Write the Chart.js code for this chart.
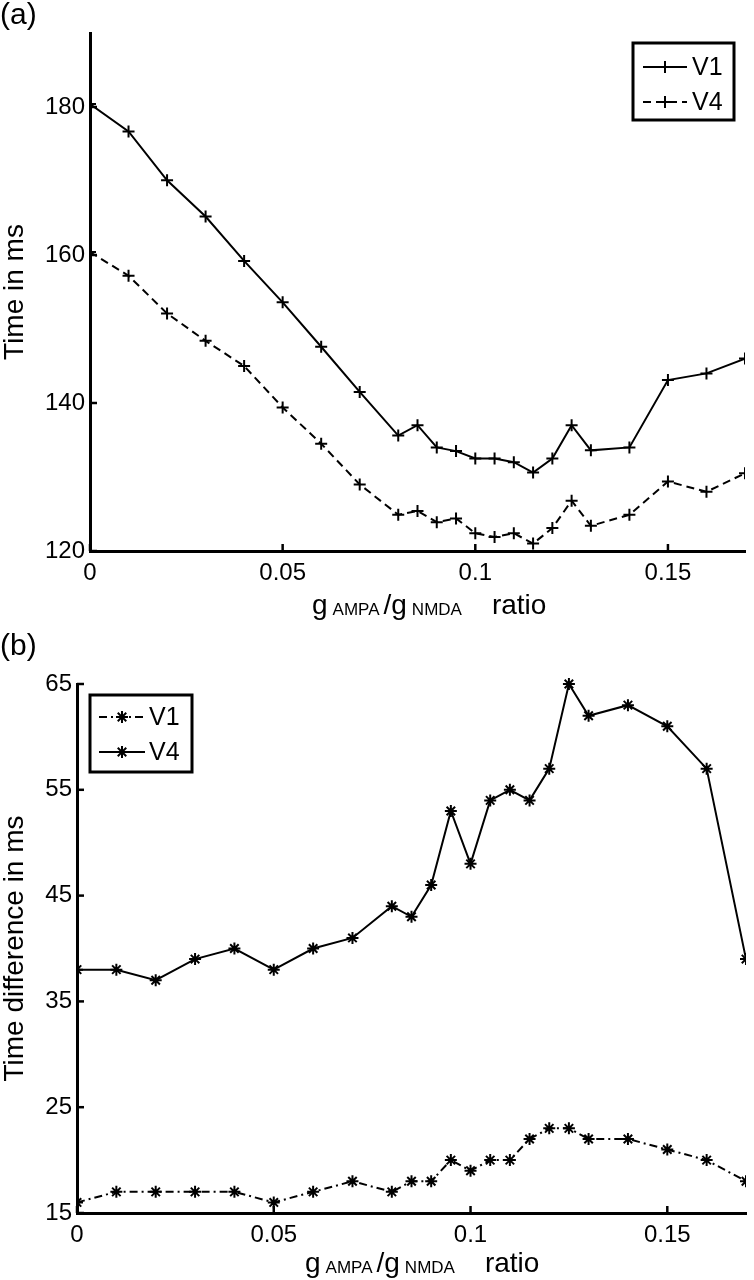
<!DOCTYPE html>
<html>
<head>
<meta charset="utf-8">
<script src="https://cdn.jsdelivr.net/npm/chart.js@4/dist/chart.umd.min.js"></script>
<style>
  html, body { margin: 0; padding: 0; background: #fff; }
  #wrap { position: relative; width: 754px; height: 1280px; background: #fff; overflow: hidden;
          font-family: "Liberation Sans", Arial, Helvetica, sans-serif; color: #000; }
  .cv { position: absolute; left: 0; }
  .panel { position: absolute; left: 0; font-size: 30px; line-height: 30px; }
  .xt { position: absolute; font-size: 28px; line-height: 28px; white-space: nowrap; }
  .xt .s { font-size: 17px; position: relative; top: 1px; margin-left: 5px; margin-right: 4px; }
  .xt .r { margin-left: 26px; }
</style>
</head>
<body>
<div id="wrap">
  <canvas id="c1" class="cv" width="754" height="640" style="top:0px"></canvas>
  <canvas id="c2" class="cv" width="754" height="640" style="top:640px"></canvas>
  <div class="panel" style="top:-1px">(a)</div>
  <div class="panel" style="top:630px">(b)</div>
  <div class="xt" style="left:312px; top:591px">g<span class="s">AMPA</span>/g<span class="s">NMDA</span><span class="r">ratio</span></div>
  <div class="xt" style="left:305px; top:1249px">g<span class="s">AMPA</span>/g<span class="s">NMDA</span><span class="r">ratio</span></div>
</div>
<script>
// ---------- data ----------
const ratios = [0, 0.01, 0.02, 0.03, 0.04, 0.05, 0.06, 0.07, 0.08, 0.085, 0.09, 0.095,
                0.1, 0.105, 0.11, 0.115, 0.12, 0.125, 0.13, 0.14, 0.15, 0.16, 0.17];
const timeV1 = [180.4, 176.7, 170.1, 165.2, 159.2, 153.6, 147.6, 141.5, 135.6, 137.0, 134.0, 133.5,
                132.5, 132.5, 132.0, 130.6, 132.5, 137.0, 133.6, 134.0, 143.1, 144.0, 146.0];
const timeV4 = [160.4, 157.2, 152.1, 148.4, 145.0, 139.4, 134.5, 129.0, 124.9, 125.4, 123.9, 124.4,
                122.4, 121.9, 122.4, 121.0, 123.1, 126.8, 123.4, 124.9, 129.4, 128.0, 130.5];
const diffV1 = [16, 17, 17, 17, 17, 16, 17, 18, 17, 18, 18, 20, 19, 20, 20, 22, 23, 23, 22, 22, 21, 20, 18];
const diffV4 = [38, 38, 37, 39, 40, 38, 40, 41, 44, 43, 46, 53, 48, 54, 55, 54, 57, 65, 62, 63, 61, 57, 39];
const xTickValues = [0, 0.05, 0.1, 0.15];
const yTicksTop = [120, 140, 160, 180];
const yTicksBottom = [15, 25, 35, 45, 55, 65];
const seriesNames = ['V1', 'V4'];
const yTitleTop = 'Time in ms';
const yTitleBottom = 'Time difference in ms';

// ---------- helpers ----------
const FONT = '"Liberation Sans", Arial, Helvetica, sans-serif';
Chart.defaults.font.family = FONT;
Chart.defaults.color = '#000';

function pts(xs, ys) { return xs.map((x, i) => ({ x: x, y: ys[i] })); }

function drawMarker(ctx, style, x, y, r) {
  ctx.beginPath();
  ctx.moveTo(x - r, y); ctx.lineTo(x + r, y);
  ctx.moveTo(x, y - r); ctx.lineTo(x, y + r);
  if (style === 'star') {
    const d = r * Math.SQRT1_2;
    ctx.moveTo(x - d, y - d); ctx.lineTo(x + d, y + d);
    ctx.moveTo(x - d, y + d); ctx.lineTo(x + d, y - d);
  }
  ctx.stroke();
}

// inward tick marks
const innerTicks = {
  id: 'innerTicks',
  afterDatasetsDraw(chart, args, opts) {
    const ctx = chart.ctx, xs = chart.scales.x, ys = chart.scales.y, a = chart.chartArea;
    ctx.save();
    ctx.strokeStyle = '#000'; ctx.lineWidth = 2.5; ctx.setLineDash([]);
    xs.ticks.forEach(t => {
      const px = xs.getPixelForValue(t.value);
      ctx.beginPath(); ctx.moveTo(px, a.bottom); ctx.lineTo(px, a.bottom - 7); ctx.stroke();
    });
    ys.ticks.forEach(t => {
      const py = ys.getPixelForValue(t.value);
      ctx.beginPath(); ctx.moveTo(a.left, py); ctx.lineTo(a.left + 7, py); ctx.stroke();
    });
    ctx.restore();
  }
};

// boxed legend inside the plot
const boxLegend = {
  id: 'boxLegend',
  afterDraw(chart, args, o) {
    const ctx = chart.ctx;
    ctx.save();
    ctx.strokeStyle = '#000'; ctx.lineWidth = 3; ctx.setLineDash([]);
    ctx.fillStyle = '#fff';
    ctx.fillRect(o.x, o.y, o.w, o.h);
    ctx.strokeRect(o.x, o.y, o.w, o.h);
    chart.data.datasets.forEach((ds, i) => {
      const yc = o.rows[i];
      ctx.strokeStyle = '#000';
      ctx.lineWidth = ds.borderWidth;
      ctx.setLineDash(ds.borderDash || []);
      ctx.beginPath(); ctx.moveTo(o.lx1, yc); ctx.lineTo(o.lx2, yc); ctx.stroke();
      ctx.setLineDash([]);
      ctx.lineWidth = ds.pointBorderWidth;
      drawMarker(ctx, ds.pointStyle, (o.lx1 + o.lx2) / 2, yc, ds.pointRadius);
      ctx.fillStyle = '#000';
      ctx.font = '25px ' + FONT;
      ctx.textAlign = 'left'; ctx.textBaseline = 'middle';
      ctx.fillText(ds.label, o.tx, yc + 1);
    });
    ctx.restore();
  }
};

function makeScales(yMin, yMax, yTicks, yTitle, xHeight, yWidth) {
  return {
    x: {
      type: 'linear', min: 0, max: 0.17,
      afterBuildTicks: s => { s.ticks = xTickValues.map(v => ({ value: v })); },
      afterFit: s => { s.height = xHeight; },
      grid: { display: false, drawTicks: false },
      border: { display: true, color: '#000', width: 3 },
      ticks: { padding: 8, font: { size: 24 }, color: '#000', maxRotation: 0,
               callback: v => String(v) }
    },
    y: {
      type: 'linear', min: yMin, max: yMax,
      afterBuildTicks: s => { s.ticks = yTicks.map(v => ({ value: v })); },
      afterFit: s => { s.width = yWidth; },
      grid: { display: false, drawTicks: false },
      border: { display: true, color: '#000', width: 3 },
      ticks: { padding: 5, font: { size: 24 }, color: '#000', callback: v => String(v) },
      title: { display: true, text: yTitle, color: '#000', font: { size: 28, lineHeight: 1.1 },
               padding: { top: 0, bottom: 0 } }
    }
  };
}

// ---------- chart (a) ----------
new Chart(document.getElementById('c1'), {
  type: 'line',
  data: {
    datasets: [
      { label: seriesNames[0], data: pts(ratios, timeV1), borderColor: '#000', borderWidth: 2,
        pointStyle: 'cross', pointRadius: 6, pointBorderWidth: 2, pointBorderColor: '#000',
        fill: false, tension: 0, clip: { left: 0, right: 0, top: false, bottom: false } },
      { label: seriesNames[1], data: pts(ratios, timeV4), borderColor: '#000', borderWidth: 2,
        borderDash: [8, 5],
        pointStyle: 'cross', pointRadius: 6, pointBorderWidth: 2, pointBorderColor: '#000',
        fill: false, tension: 0, clip: { left: 0, right: 0, top: false, bottom: false } }
    ]
  },
  options: {
    responsive: false, animation: false, devicePixelRatio: 1,
    layout: { padding: { top: 33, right: 9, left: 0, bottom: 0 } },
    plugins: {
      legend: { display: false }, tooltip: { enabled: false },
      boxLegend: { x: 633, y: 43, w: 101, h: 77, rows: [67, 102], lx1: 643, lx2: 687, tx: 692 }
    },
    scales: makeScales(120, 190, yTicksTop, yTitleTop, 89, 90)
  },
  plugins: [innerTicks, boxLegend]
});

// ---------- chart (b) ----------
new Chart(document.getElementById('c2'), {
  type: 'line',
  data: {
    datasets: [
      { label: seriesNames[0], data: pts(ratios, diffV1), borderColor: '#000', borderWidth: 2,
        borderDash: [8, 4, 2, 4],
        pointStyle: 'star', pointRadius: 6, pointBorderWidth: 2, pointBorderColor: '#000',
        fill: false, tension: 0, clip: { left: 0, right: 0, top: false, bottom: false } },
      { label: seriesNames[1], data: pts(ratios, diffV4), borderColor: '#000', borderWidth: 2,
        pointStyle: 'star', pointRadius: 6, pointBorderWidth: 2, pointBorderColor: '#000',
        fill: false, tension: 0, clip: { left: 0, right: 0, top: false, bottom: false } }
    ]
  },
  options: {
    responsive: false, animation: false, devicePixelRatio: 1,
    layout: { padding: { top: 44, right: 7, left: 0, bottom: 0 } },
    plugins: {
      legend: { display: false }, tooltip: { enabled: false },
      boxLegend: { x: 90, y: 55, w: 102, h: 77, rows: [77, 112], lx1: 99, lx2: 145, tx: 149 }
    },
    scales: makeScales(15, 65, yTicksBottom, yTitleBottom, 67, 77)
  },
  plugins: [innerTicks, boxLegend]
});
</script>
</body>
</html>
